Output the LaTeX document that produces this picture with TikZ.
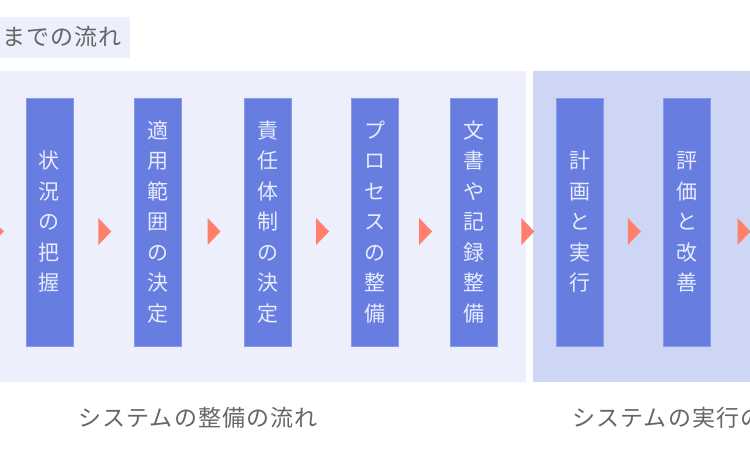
\documentclass[tikz,border=0pt]{standalone}
\usepackage{fontspec}
\setmainfont{Noto Sans CJK JP}
\usetikzlibrary{shapes.geometric}
\definecolor{panelleft}{HTML}{EDF0FC}
\definecolor{panelright}{HTML}{CDD6F5}
\definecolor{stepfill}{HTML}{687DE0}
\definecolor{stepline}{HTML}{8898EA}
\definecolor{steptext}{HTML}{E8ECFF}
\definecolor{arrowfill}{HTML}{FF7F6C}
\definecolor{labelgray}{HTML}{666666}
\begin{document}
\begin{tikzpicture}
[x=1pt,y=-1pt,
  stepdecorate/.style={shape=rectangle,fill=stepfill,draw=stepline,line width=0.8pt,
    minimum width=47pt,minimum height=248pt,inner sep=0pt,text width=47pt,
    align=center,text=steptext,font=\fontsize{21}{30.5}\selectfont},
  arrowdecorate/.style={shape=isosceles triangle,isosceles triangle stretches,
    fill=arrowfill,inner sep=0pt,minimum width=27pt,minimum height=13pt},
  labeldecorate/.style={text=labelgray,inner sep=0pt,anchor=west,
    font=\fontsize{23}{23}\selectfont\addfontfeature{LetterSpace=5}}]
\useasboundingbox (0,0) rectangle (750,450);
\clip (0,0) rectangle (750,450);
%% panels
\fill[panelleft] (0,17) rectangle (130,58);
\fill[panelleft] (-10,71) rectangle (526,382);
\fill[panelright] (533,71) rectangle (760,382);
\node[labeldecorate] (title) at (2,37) {までの流れ};
%% steps
\foreach \nodename/\x/\text in {1/49.5/{状\\況\\の\\把\\握},
  2/158/{適\\用\\範\\囲\\の\\決\\定}, 3/268/{責\\任\\体\\制\\の\\決\\定},
  4/375/{プ\\ロ\\セ\\ス\\の\\整\\備}, 5/474/{文\\書\\や\\記\\録\\整\\備},
  6/579.5/{計\\画\\と\\実\\行}, 7/687/{評\\価\\と\\改\\善}}
{
  \node (\nodename) at (\x,222) [stepdecorate] {\text};
}
\coordinate (0) at (-33,222);
\coordinate (8) at (775,222);
%% arrows between steps
\foreach \startnode/\endnode in {0/1, 1/2, 2/3, 3/4, 4/5, 5/6, 6/7, 7/8}
{
  \path (\startnode.east) -- (\endnode.west)
    node[midway,yshift=-9.5pt,arrowdecorate] {};
}
%% group labels
\node[labeldecorate] (build) at (78,418) {システムの整備の流れ};
\node[labeldecorate] (run) at (572,418) {システムの実行の流れ};
\end{tikzpicture}
\end{document}
